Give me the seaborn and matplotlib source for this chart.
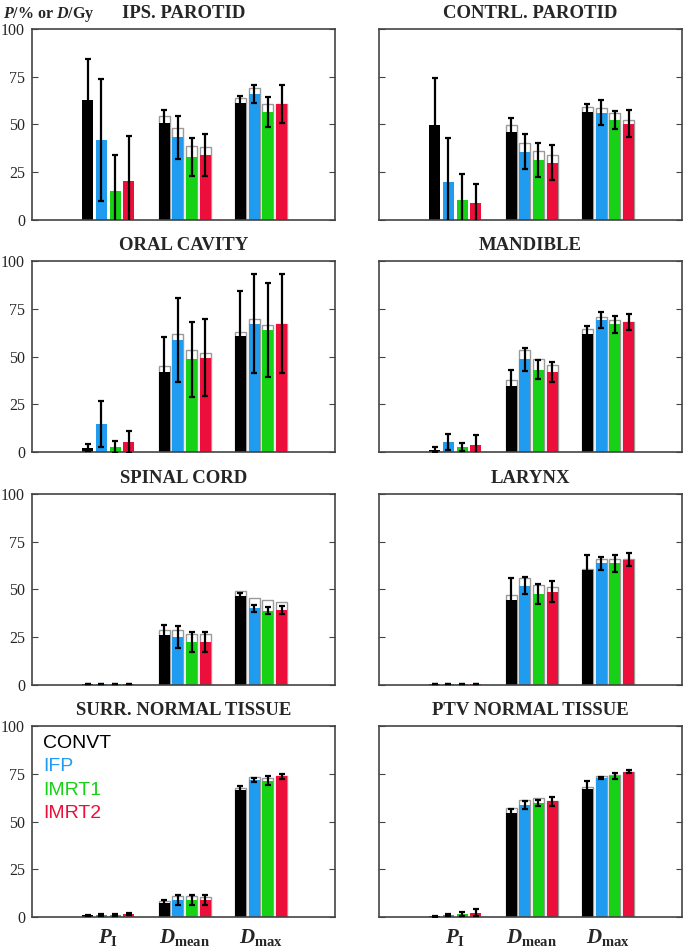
import numpy as np
import pandas as pd
import seaborn as sns
import matplotlib.pyplot as plt

nan = np.nan
plans = ["CONVT", "IFP", "IMRT1", "IMRT2"]
plan_colors = ["#000000", "#1f9bef", "#17d117", "#ec0f3b"]
metrics = ["PI", "Dmean", "Dmax"]
metric_labels = [r"$P_{\mathbf{I}}$", r"$D_{\mathbf{mean}}$", r"$D_{\mathbf{max}}$"]

# rows: P_I, D_mean, D_max ; columns: CONVT, IFP, IMRT1, IMRT2
ips_val = [[63, 42, 15, 20], [50.6, 43.1, 32.8, 34.0], [61.4, 66.0, 56.4, 60.6]]
ips_top = [[nan] * 4, [54.3, 48.0, 38.4, 38.0], [63.7, 68.8, 60.6, 60.6]]
ips_err = [[21, 32, 19, 24], [6.8, 11.2, 9.8, 11], [3.7, 4.8, 8, 10]]

con_val = [[49.7, 19.9, 10.5, 8.7], [46.1, 35.6, 31.4, 29.8], [56.2, 56.0, 52.2, 50.4]]
con_top = [[nan] * 4, [49.4, 40.0, 36.1, 34.0], [59.0, 58.3, 55.7, 52.5]]
con_err = [[24.5, 23, 13.4, 10], [7.3, 9.3, 9, 9.3], [4.2, 6.5, 4.6, 6.9]]

oral_val = [[2.3, 14.7, 2.6, 5.3], [41.9, 58.6, 48.6, 49.6], [60.9, 67.4, 64.0, 67.4]]
oral_top = [[nan] * 4, [45.4, 62.1, 53.3, 52.1], [63.2, 70.0, 66.8, 67.4]]
oral_err = [[1.7, 12, 3, 5.7], [18.3, 22, 19.5, 20], [23.5, 26, 24.5, 26]]

mand_val = [[1.2, 5.3, 2.5, 3.9], [34.9, 48.6, 43.3, 41.9], [61.9, 69.3, 67.0, 68.2]]
mand_top = [[nan] * 4, [37.9, 53.5, 48.8, 45.8], [64.4, 71.0, 69.5, 68.2]]
mand_err = [[1.3, 4.2, 2, 5], [7.9, 5.9, 5, 5.3], [4.2, 4, 4.6, 4.4]]

cord_val = [[0.3, 0.3, 0.3, 0.3], [25.8, 25.0, 22.3, 22.3], [46.7, 40.0, 38.8, 39.2]]
cord_top = [[nan] * 4, [28.5, 28.8, 26.7, 26.4], [49.0, 45.2, 44.5, 43.4]]
cord_err = [[0.2, 0.2, 0.2, 0.2], [5.3, 5.7, 5, 5], [1.5, 1.9, 1.7, 2.1]]

lar_val = [[0.3, 0.3, 0.3, 0.3], [44.2, 51.9, 47.7, 48.8], [60.0, 63.6, 63.6, 65.6]]
lar_top = [[nan] * 4, [47.0, 55.8, 52.3, 51.0], [60.7, 65.9, 65.9, 65.9]]
lar_err = [[0.2, 0.2, 0.2, 0.2], [11.7, 4.5, 5.2, 5.5], [8, 3.5, 4.6, 3.3]]

surr_val = [[0.9, 1.2, 1.2, 1.6], [7.5, 8.9, 8.9, 8.9], [66.5, 71.9, 71.6, 73.8]]
surr_top = [[nan] * 4, [8.4, 11.2, 10.8, 10.5], [67.9, 73.6, 73.1, 73.8]]
surr_err = [[0.3, 0.5, 0.5, 0.7], [1.5, 2.5, 2.7, 2.7], [2.5, 1.2, 2.5, 1.2]]

ptv_val = [[0.3, 1.0, 1.4, 2.3], [54.8, 58.8, 59.9, 60.7], [67.2, 72.8, 74.0, 76.3]]
ptv_top = [[nan] * 4, [57.0, 61.6, 62.5, 60.7], [68.4, 74.0, 74.7, 76.3]]
ptv_err = [[0.2, 0.5, 1.0, 1.7], [1.7, 2.1, 1.7, 2.5], [4, 0.5, 1.8, 0.9]]

panels = [
    ("IPS. PAROTID", ips_val, ips_top, ips_err),
    ("CONTRL. PAROTID", con_val, con_top, con_err),
    ("ORAL CAVITY", oral_val, oral_top, oral_err),
    ("MANDIBLE", mand_val, mand_top, mand_err),
    ("SPINAL CORD", cord_val, cord_top, cord_err),
    ("LARYNX", lar_val, lar_top, lar_err),
    ("SURR. NORMAL TISSUE", surr_val, surr_top, surr_err),
    ("PTV NORMAL TISSUE", ptv_val, ptv_top, ptv_err),
]

sns.set_style("ticks")
plt.rcParams["font.family"] = ["Liberation Serif", "DejaVu Serif"]
plt.rcParams["mathtext.fontset"] = "custom"
plt.rcParams["mathtext.rm"] = "Liberation Serif:bold"
plt.rcParams["mathtext.it"] = "Liberation Serif:italic:bold"
plt.rcParams["mathtext.bf"] = "Liberation Serif:bold"

fig, axes = plt.subplots(4, 2, figsize=(6.85, 9.52), dpi=100)
fig.subplots_adjust(left=32 / 685, right=682 / 685, top=1 - 29 / 952,
                    bottom=1 - 917 / 952, wspace=0.145, hspace=0.22)

for i, (title, val, top, err) in enumerate(panels):
    ax = axes.flat[i]
    rows = []
    for m, metric in enumerate(metrics):
        for p, plan in enumerate(plans):
            rows.append([metric, plan, val[m][p], top[m][p], err[m][p]])
    df = pd.DataFrame(rows, columns=["metric", "plan", "value", "upper", "err"])

    # white outlined bars (upper value) behind the coloured bars
    sns.barplot(data=df.dropna(subset=["upper"]), x="metric", y="upper", hue="plan",
                order=metrics, hue_order=plans, palette=["white"] * 4,
                width=0.72, gap=0.2, edgecolor="#9a9a9a", linewidth=1,
                errorbar=None, legend=False, ax=ax)
    sns.barplot(data=df, x="metric", y="value", hue="plan",
                order=metrics, hue_order=plans, palette=plan_colors,
                width=0.72, gap=0.2, linewidth=0, saturation=1,
                errorbar=None, legend=False, ax=ax)

    for p, cont in enumerate(ax.containers[-4:]):
        xs = [b.get_x() + b.get_width() / 2 for b in cont]
        sub = df[df["plan"] == plans[p]].set_index("metric").loc[metrics]
        ax.errorbar(xs, sub["value"], yerr=sub["err"], fmt="none", ecolor="black",
                    elinewidth=1.6, capsize=2, capthick=1.6, zorder=5)

    ax.set_xlim(-1, 2.97)
    ax.set_ylim(0, 100)
    ax.set_yticks([0, 25, 50, 75, 100])
    ax.set_xlabel("")
    ax.set_ylabel("")
    ax.set_title(title, fontsize=13.5, fontweight="bold", pad=8)
    ax.tick_params(axis="y", direction="in", length=4, right=True, labelsize=11.5,
                   pad=5, color="#444444")
    ax.tick_params(axis="x", length=0, pad=7)
    for s in ax.spines.values():
        s.set_visible(True)
        s.set_color("#444444")
        s.set_linewidth(1.2)
    if i % 2 == 1:
        ax.set_yticklabels([])
    if i >= 6:
        ax.set_xticks(range(3))
        ax.set_xticklabels(metric_labels, fontsize=15)
    else:
        ax.set_xticklabels([])

# legend written as coloured text in the surrounding tissue panel
leg_ax = axes.flat[6]
for p, plan in enumerate(plans):
    leg_ax.text(0.036, 0.955 - p * 0.122, plan, color=plan_colors[p],
                transform=leg_ax.transAxes, ha="left", va="top",
                fontsize=14, family=["Liberation Sans", "DejaVu Sans"])

fig.text(3 / 685, 1 - 18 / 952, r"$P$/% or $D$/Gy", fontsize=11.5, fontweight="bold",
         ha="left", va="baseline")

plt.savefig("out.png", dpi=100)
